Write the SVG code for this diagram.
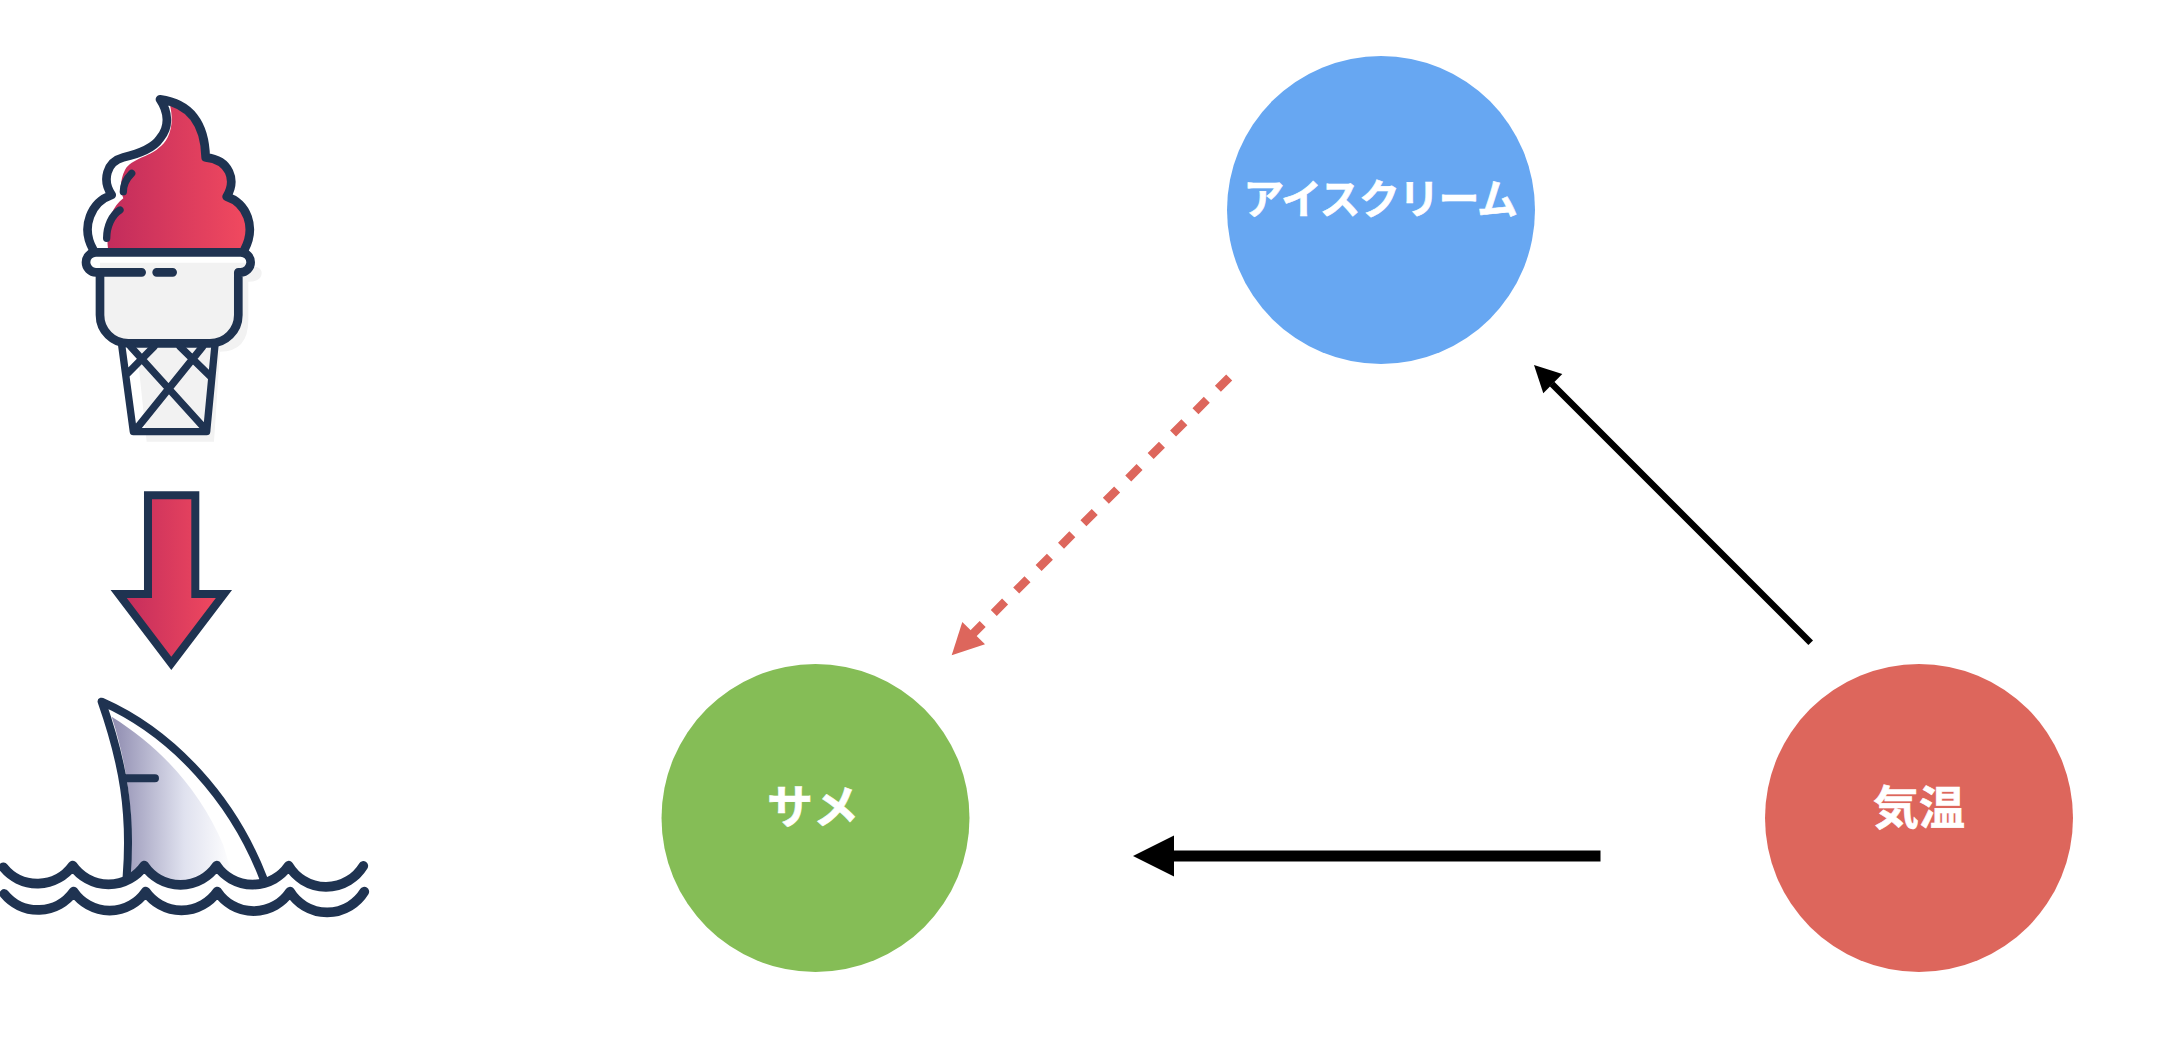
<svg xmlns="http://www.w3.org/2000/svg" width="2162" height="1064" viewBox="0 0 2162 1064">
<style>
.lbl{font-family:"Noto Sans CJK JP","Noto Sans",sans-serif;font-weight:700;fill:#fff;stroke:#fff;stroke-width:.6;text-anchor:middle}
.ink{fill:none;stroke:#1f3351;stroke-linecap:round;stroke-linejoin:round}
</style>
<defs>
<linearGradient id="red" x1="0" x2="1" y1="0" y2="0"><stop offset="0" stop-color="#c22c5c"/><stop offset="1" stop-color="#f24a5f"/></linearGradient>
<linearGradient id="fin" x1="0" x2="1" y1="0" y2="0"><stop offset="0" stop-color="#8f8cb0"/><stop offset=".6" stop-color="#e0e2ef"/><stop offset="1" stop-color="#ffffff"/></linearGradient>
</defs>
<rect width="2162" height="1064" fill="#fff"/>
<g id="icecream" transform="translate(60 70) scale(.3333)">
<path d="M125,590 H580 Q605,590 605,610 Q605,635 565,635 V750 Q565,845 480,845 L462,1115 H260 L230,830 Z" fill="#f2f2f2"/>
<path d="M300,88 C390,100 435,160 437,262 C510,270 530,330 500,380 C560,400 590,470 553,545 H100 C60,470 95,395 155,375 C125,330 140,275 190,262 C240,250 280,235 300,205 C330,170 325,125 300,88Z" fill="#fff"/>
<path d="M330,105 C390,125 430,190 437,262 C510,270 530,330 500,380 C560,400 590,470 553,545 H145 C135,470 150,415 190,385 C180,360 180,330 195,300 C215,265 270,260 295,235 C325,215 345,170 330,105Z" fill="url(#red)"/>
<rect x="78" y="547" width="494" height="60" rx="30" fill="#fff"/>
<path d="M120,578 H560 V607 H535 V735 A85,85 0 0 1 450,820 H205 A85,85 0 0 1 120,735Z" fill="#f2f2f2"/>
<path class="ink" stroke-width="26" d="M100,540 C60,470 95,395 155,375 C125,330 140,275 190,262 C240,250 280,235 300,205 C330,170 325,125 300,88 C390,100 435,160 437,262 C510,270 530,330 500,380 C560,400 590,470 553,540"/>
<path class="ink" stroke-width="22" d="M215,310 C200,325 190,345 190,365 M180,420 C155,435 140,470 140,505"/>
<path class="ink" stroke-width="26" d="M245,607 H108 A30,30 0 0 1 108,547 H542 A30,30 0 0 1 542,607 H535 V735 A85,85 0 0 1 450,820 H205 A85,85 0 0 1 120,735 V607 M290,607 H338"/>
<path class="ink" stroke-width="22" d="M185,825 L220,1085 H440 L465,825 M212,830 L440,1082 M225,1082 L428,830 M282,830 L198,915 M360,830 L452,920"/>
</g>
<g id="down-arrow" transform="translate(0 470) scale(.3333)">
<path d="M444,76 H586 V372 H672 L514,580 L356,372 H444Z" fill="url(#red)" stroke="#1f3351" stroke-width="24"/>
</g>
<g id="shark" transform="translate(0 470) scale(.3333)">
<path d="M335,740 C480,830 600,960 670,1125 L700,1225 L650,1187 A131,131 0 0 1 433,1187 Q415,1205 390,1215 C405,1030 380,880 335,740Z" fill="url(#fin)"/>
<path class="ink" stroke-width="24" d="M380,1220 C395,1030 370,880 305,695 C520,790 700,990 790,1225 M380,925 H465"/>
<path class="ink" stroke-width="29" d="M10,1192 A131,131 0 0 0 218,1187 A131,131 0 0 0 433,1187 A131,131 0 0 0 650,1187 A131,131 0 0 0 866,1187 A131,131 0 0 0 1090,1188"/>
<path class="ink" stroke-width="29" d="M13,1272 A131,131 0 0 0 221,1265 A131,131 0 0 0 437,1265 A131,131 0 0 0 652,1265 A131,131 0 0 0 870,1265 A131,131 0 0 0 1093,1265"/>
</g>
<g id="connectors">
<path d="M1229.2,377.4 L973,633.7" fill="none" stroke="#dd665c" stroke-width="8.5" stroke-dasharray="16 15.7"/>
<path d="M951.7,655.3 L962.3,622 L985,644.3Z" fill="#dd665c"/>
<path d="M1810.7,642.7 L1552,384" fill="none" stroke="#000" stroke-width="6.5"/>
<path d="M1534,365 L1562.3,374 L1543.3,393.3Z" fill="#000"/>
<path d="M1600.5,856 H1170" fill="none" stroke="#000" stroke-width="11"/>
<path d="M1133,856 L1174,835.5 V876.5Z" fill="#000"/>
</g>
<g id="icecream-node"><circle cx="1381" cy="210" r="154" fill="#67a7f2"/><text class="lbl" x="1380" y="214" font-size="41" letter-spacing="-1.3">アイスクリーム</text></g>
<g id="shark-node"><circle cx="815.5" cy="818" r="154" fill="#85bd56"/><text class="lbl" x="813" y="823" font-size="46">サメ</text></g>
<g id="temp-node"><circle cx="1919" cy="818" r="154" fill="#dd665c"/><text class="lbl" x="1919" y="824" font-size="46">気温</text></g>
</svg>
